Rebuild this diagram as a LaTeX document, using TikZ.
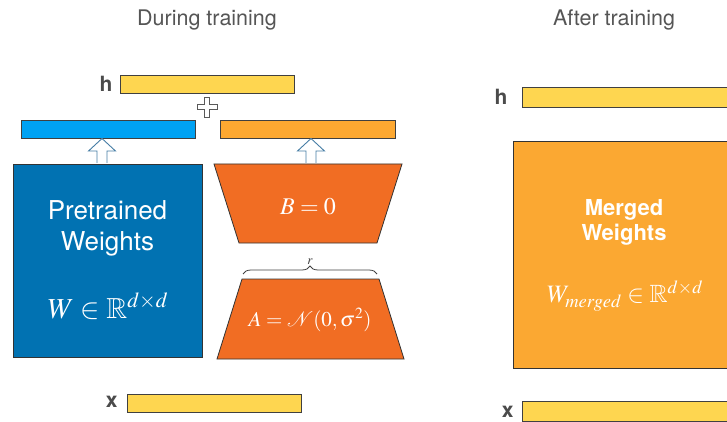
\documentclass[tikz,border=0pt]{standalone}
\usepackage{mathptmx}
\usepackage{amssymb}
\usepackage{fontspec}
\setsansfont{TeX Gyre Heros}
\usetikzlibrary{decorations.pathreplacing}
\definecolor{ybar}{RGB}{254,214,80}
\definecolor{bbar}{RGB}{0,162,243}
\definecolor{obar}{RGB}{253,168,49}
\definecolor{bbox}{RGB}{1,114,178}
\definecolor{trap}{RGB}{241,109,35}
\definecolor{merged}{RGB}{251,168,50}
\definecolor{arrowline}{RGB}{70,125,165}
\definecolor{titlegray}{RGB}{85,85,85}
\definecolor{labgray}{RGB}{75,75,75}
\tikzset{
  bar/.style={draw=black!75, line width=0.8pt, minimum height=18pt, inner sep=0pt, anchor=north west},
  bigbox/.style={draw=black!80, line width=0.8pt, inner sep=0pt, anchor=north west},
  title/.style={font=\sffamily\fontsize{21.5}{25}\selectfont, text=titlegray},
  vlabel/.style={font=\sffamily\bfseries\fontsize{21}{24}\selectfont, text=labgray},
  boxtext/.style={font=\sffamily\fontsize{26}{30}\selectfont, text=white},
  mtext/.style={font=\sffamily\bfseries\fontsize{22}{26}\selectfont, text=white},
  hollow/.style={draw=arrowline, fill=white, line width=0.9pt, line join=miter},
  trapstyle/.style={draw=black!80, fill=trap, line width=0.8pt},
}
\begin{document}
\begin{tikzpicture}[x=1pt,y=-1pt]
\useasboundingbox (0,0) rectangle (727,422);
\clip (0,0) rectangle (727,422);
% titles
\node[title] (t1) at (207,20) {During training};
\node[title] (t2) at (614,20) {After training};
% left: bars
\node[bar, fill=ybar, minimum width=174pt] (hbar) at (120,75) {};
\node[vlabel, anchor=east] (hlab) at (116,84) {h};
\node[bar, fill=bbar, minimum width=174pt] (bluebar) at (21,120) {};
\node[bar, fill=obar, minimum width=175pt] (orangebar) at (220,120) {};
\node[bar, fill=ybar, minimum width=174pt] (xbar) at (127,394) {};
\node[vlabel, anchor=east] (xlab) at (121,402) {x};
% plus
\coordinate (plus) at (207,107);
\draw[draw=black!65, fill=white, line width=0.8pt]
  ([shift={(-2.5,-10)}]plus) -- ([shift={(2.5,-10)}]plus) -- ([shift={(2.5,-2.5)}]plus)
  -- ([shift={(10,-2.5)}]plus) -- ([shift={(10,2.5)}]plus) -- ([shift={(2.5,2.5)}]plus)
  -- ([shift={(2.5,10)}]plus) -- ([shift={(-2.5,10)}]plus) -- ([shift={(-2.5,2.5)}]plus)
  -- ([shift={(-10,2.5)}]plus) -- ([shift={(-10,-2.5)}]plus) -- ([shift={(-2.5,-2.5)}]plus) -- cycle;
% pretrained box
\node[bigbox, fill=bbox, minimum width=189pt, minimum height=193pt] (pre) at (13,164) {};
\node[boxtext, align=center] (pretxt) at (107.5,228) {Pretrained\\[1pt]Weights};
\node[text=white, font=\fontsize{29}{33}\selectfont] (wmath) at (108,306) {$W \in \mathbb{R}^{d\times d}$};
% trapezoid B
\draw[trapstyle] (214,164) -- (402,164) -- (377,243) -- (239,243) -- cycle;
\node[text=white, font=\fontsize{24}{28}\selectfont] (btxt) at (308,207) {$B = 0$};
% brace
\coordinate (brl) at (243,274);
\coordinate (brr) at (377,274);
\draw[black!75, line width=0.8pt, decorate, decoration={brace, amplitude=8pt}] (brl) -- (brr)
  node[midway, above=8pt, text=black!75, font=\fontsize{13}{15}\selectfont, inner sep=1pt] (rlab) {$r$};
% trapezoid A
\draw[trapstyle] (242,279) -- (379,279) -- (404,359) -- (217,359) -- cycle;
\node[text=white, font=\fontsize{21}{25}\selectfont] (atxt) at (310,320) {$A = \mathcal{N}(0,\sigma^2)$};
% hollow arrows
\foreach \cx/\nm in {102/a1, 311/a2}{
  \draw[hollow] (\cx-5,163) -- (\cx-5,151) -- (\cx-13.5,151) -- (\cx,138.5) -- (\cx+13.5,151) -- (\cx+5,151) -- (\cx+5,163);
}
% right side
\node[bar, fill=ybar, minimum width=240pt, minimum height=20pt] (hbar2) at (522,87) {};
\node[vlabel, anchor=east] (hlab2) at (511,97) {h};
\node[bigbox, fill=merged, minimum width=240pt, minimum height=227pt] (mer) at (513,141) {};
\node[mtext, align=center] (mertxt) at (624,222) {Merged\\[-1pt]Weights};
\node[text=white, font=\fontsize{25}{29}\selectfont] (wmer) at (625,296) {$W_{merged} \in \mathbb{R}^{d\times d}$};
\node[bar, fill=ybar, minimum width=240pt, minimum height=20pt] (xbar2) at (522,401) {};
\node[vlabel, anchor=east] (xlab2) at (517,412) {x};
\end{tikzpicture}
\end{document}
